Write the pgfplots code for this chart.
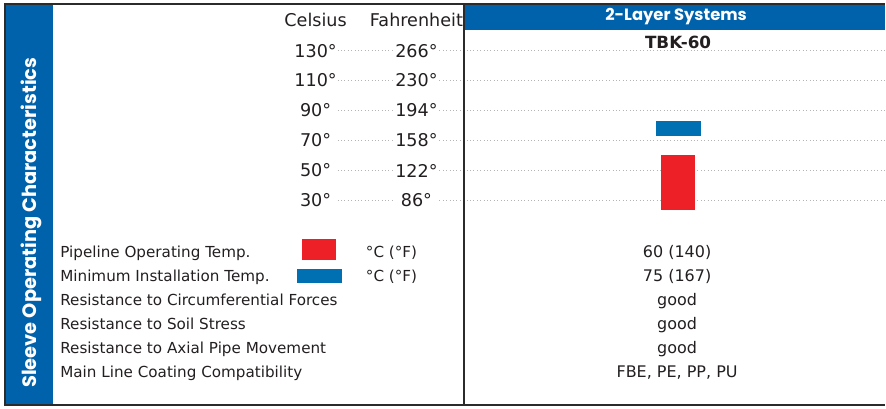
\documentclass[border=0pt]{standalone}
\usepackage{fontspec}
\setmainfont{DejaVu Sans}
\newfontfamily\headfont{Poppins}
\usepackage{pgfplots}
\pgfplotsset{compat=1.18}

\definecolor{hdrblue}{HTML}{0062AA}
\definecolor{barblue}{HTML}{0070B3}
\definecolor{barred}{HTML}{ED2027}
\definecolor{framec}{HTML}{2B2B2B}
\definecolor{txt}{HTML}{231F20}
\definecolor{gridc}{HTML}{B4B4B4}

% pixel rows of the text lines (baselines)
\def\rowA{257.5}

\begin{document}
\begin{tikzpicture}
\begin{scope}[x=0.5pt,y=-0.5pt]
  \useasboundingbox (0,0) rectangle (886,409);
  \fill[hdrblue] (5,4) rectangle (53,406);
  \fill[hdrblue] (466,4) rectangle (886,30);
\end{scope}

% temperature scale: 30 deg C at pixel row 200.7, 1.5 px per degree
\begin{axis}[
  at={(0,0)}, anchor=north west,
  scale only axis, width=443pt, height=204.5pt,
  xmin=0, xmax=886,
  ymin=-108.87, ymax=163.8,
  axis lines=none, clip=false,
]
  \pgfplotsinvokeforeach{30,50,70,90,110,130}{
    \addplot[gridc, line width=0.5pt, dash pattern=on 0.5pt off 1.2pt]
      coordinates {(338,#1) (395,#1)};
    \addplot[gridc, line width=0.5pt, dash pattern=on 0.5pt off 1.2pt]
      coordinates {(440,#1) (886,#1)};
  }
  % TBK-60: pipeline operating temp (red) and minimum installation temp (blue)
  \addplot[fill=barred, draw=none]
    coordinates {(662,23.3) (696,23.3) (696,60) (662,60)} -- cycle;
  \addplot[fill=barblue, draw=none]
    coordinates {(657,73.3) (702,73.3) (702,83.1) (657,83.1)} -- cycle;
\end{axis}

\begin{scope}[x=0.5pt,y=-0.5pt, every node/.style={text=txt, inner sep=0pt, font=\fontsize{7.6}{9}\selectfont}]
  \draw[framec, line width=1pt] (4,4) -- (886,4);
  \draw[framec, line width=1.2pt] (4,405.5) -- (886,405.5);
  \draw[framec, line width=1pt] (5,4) -- (5,406);
  \draw[framec, line width=1pt] (465,4) -- (465,406);

  \node[rotate=90, anchor=base, text=white, font=\headfont\bfseries\fontsize{9.7}{12}\selectfont]
    at (36.5,223) {Sleeve Operating Characteristics};
  \node[text=white, font=\headfont\bfseries\fontsize{8.2}{10}\selectfont] at (677,17) {2-Layer Systems};
  \node[font=\bfseries\fontsize{8.4}{10}\selectfont] at (679,42) {TBK-60};

  \begin{scope}[every node/.append style={font=\fontsize{8.8}{10}\selectfont}]
    \node at (316,20) {Celsius};
    \node at (417,20) {Fahrenheit};
    \foreach \c/\f/\y in {130/266/50.7,110/230/80.7,90/194/110.7,70/158/140.7,50/122/170.7,30/86/200.7}{
      \node at (316,\y) {\c°};
      \node at (417,\y) {\f°};
    }
  \end{scope}

  \fill[barred] (302,239) rectangle (336,260);
  \fill[barblue] (297,269) rectangle (342,283);

  \foreach \t [count=\i from 0] in {Pipeline Operating Temp.,Minimum Installation Temp.,Resistance to Circumferential Forces,Resistance to Soil Stress,Resistance to Axial Pipe Movement,Main Line Coating Compatibility}{
    \node[anchor=base west] at (60,\rowA+24*\i) {\t};
  }
  \node[anchor=base west] at (366,\rowA) {°C (°F)};
  \node[anchor=base west] at (366,\rowA+24) {°C (°F)};
  \foreach \t [count=\i from 0] in {60 (140),75 (167),good,good,good,{FBE, PE, PP, PU}}{
    \node[anchor=base, font=\fontsize{8.0}{9}\selectfont] at (678,\rowA+24*\i) {\t};
  }
\end{scope}
\end{tikzpicture}
\end{document}
